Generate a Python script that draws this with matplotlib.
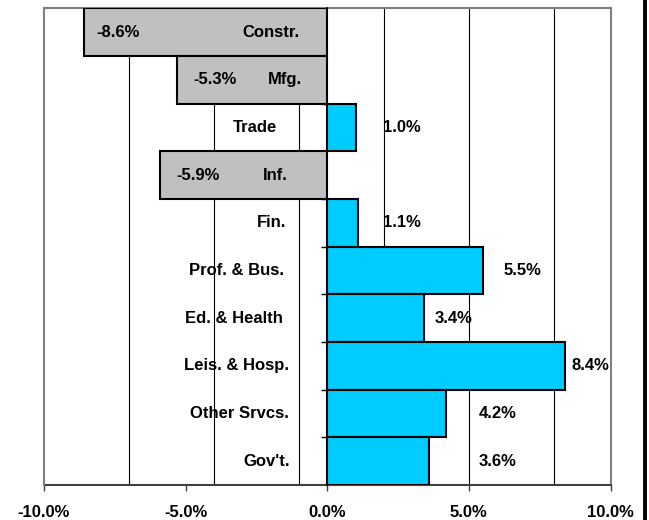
import numpy as np
import matplotlib
matplotlib.use("Agg")
import matplotlib.pyplot as plt
from matplotlib.lines import Line2D

# employment change by sector
sectors = ["Constr.", "Mfg.", "Trade", "Inf.", "Fin.", "Prof. & Bus.",
           "Ed. & Health", "Leis. & Hosp.", "Other Srvcs.", "Gov't."]
change = [-8.6, -5.3, 1.0, -5.9, 1.1, 5.5, 3.4, 8.4, 4.2, 3.6]

# where the labels were placed by hand in the original (x centre, in %)
name_x = [-2.0, -1.5, -2.55, -1.85, -1.95, -3.2, -3.3, -3.2, -3.1, -2.15]
value_x = [-7.4, -3.95, 2.65, -4.55, 2.65, 6.9, 4.45, 9.3, 6.0, 6.0]

xticks = [-10, -5, 0, 5, 10]
gridlines = [-7, -4, -1, 2, 5, 8]

plt.rcParams['font.family'] = ['Liberation Sans', 'DejaVu Sans']
plt.rcParams['font.weight'] = 'bold'

fig = plt.figure(figsize=(6.49, 5.2), dpi=100)
ax = fig.add_axes([44 / 649, 1 - 485 / 520, (610.5 - 44) / 649, (485 - 8.3) / 520])

y = np.arange(len(sectors))
colors = ['#C0C0C0' if v < 0 else '#00CCFF' for v in change]

for g in gridlines:
    ax.axvline(g, color='black', lw=0.8, zorder=1)

ax.barh(y, change, height=1.0, color=colors, edgecolor='black', linewidth=1.5, zorder=3)

for i in range(len(sectors)):
    ax.text(name_x[i], y[i], sectors[i], ha='center', va='center',
            fontsize=12, fontweight='bold', zorder=4)
    ax.text(value_x[i], y[i], f"{change[i]:.1f}%", ha='center', va='center',
            fontsize=12, fontweight='bold', zorder=4)

ax.set_xlim(-10, 10)
ax.set_ylim(len(sectors) - 0.5, -0.5)

ax.set_xticks(xticks)
ax.set_xticklabels([f"{t:.1f}%" for t in xticks], fontsize=12, fontweight='bold')
ax.tick_params(axis='x', direction='out', length=4.5, width=1, color='#404040', pad=10)

# category axis sits on the zero line
ax.spines['left'].set_position(('data', 0))
ax.spines['left'].set_color('black')
ax.spines['left'].set_linewidth(1.2)
ax.spines['left'].set_zorder(5)
ax.set_yticks(np.arange(0.5, len(sectors) - 1, 1))
ax.set_yticklabels([])
ax.tick_params(axis='y', direction='out', length=4.5, width=1, color='black')

for s in ['top', 'right']:
    ax.spines[s].set_color('#808080')
    ax.spines[s].set_linewidth(1.5)
ax.spines['bottom'].set_color('#404040')
ax.spines['bottom'].set_linewidth(1.5)
ax.axvline(-10, color='#808080', lw=1.5, clip_on=False, zorder=5)

fig.add_artist(Line2D([644.5 / 649, 644.5 / 649], [0, 1], transform=fig.transFigure,
                      color='black', lw=2.8))

fig.savefig("out.png", dpi=100)
